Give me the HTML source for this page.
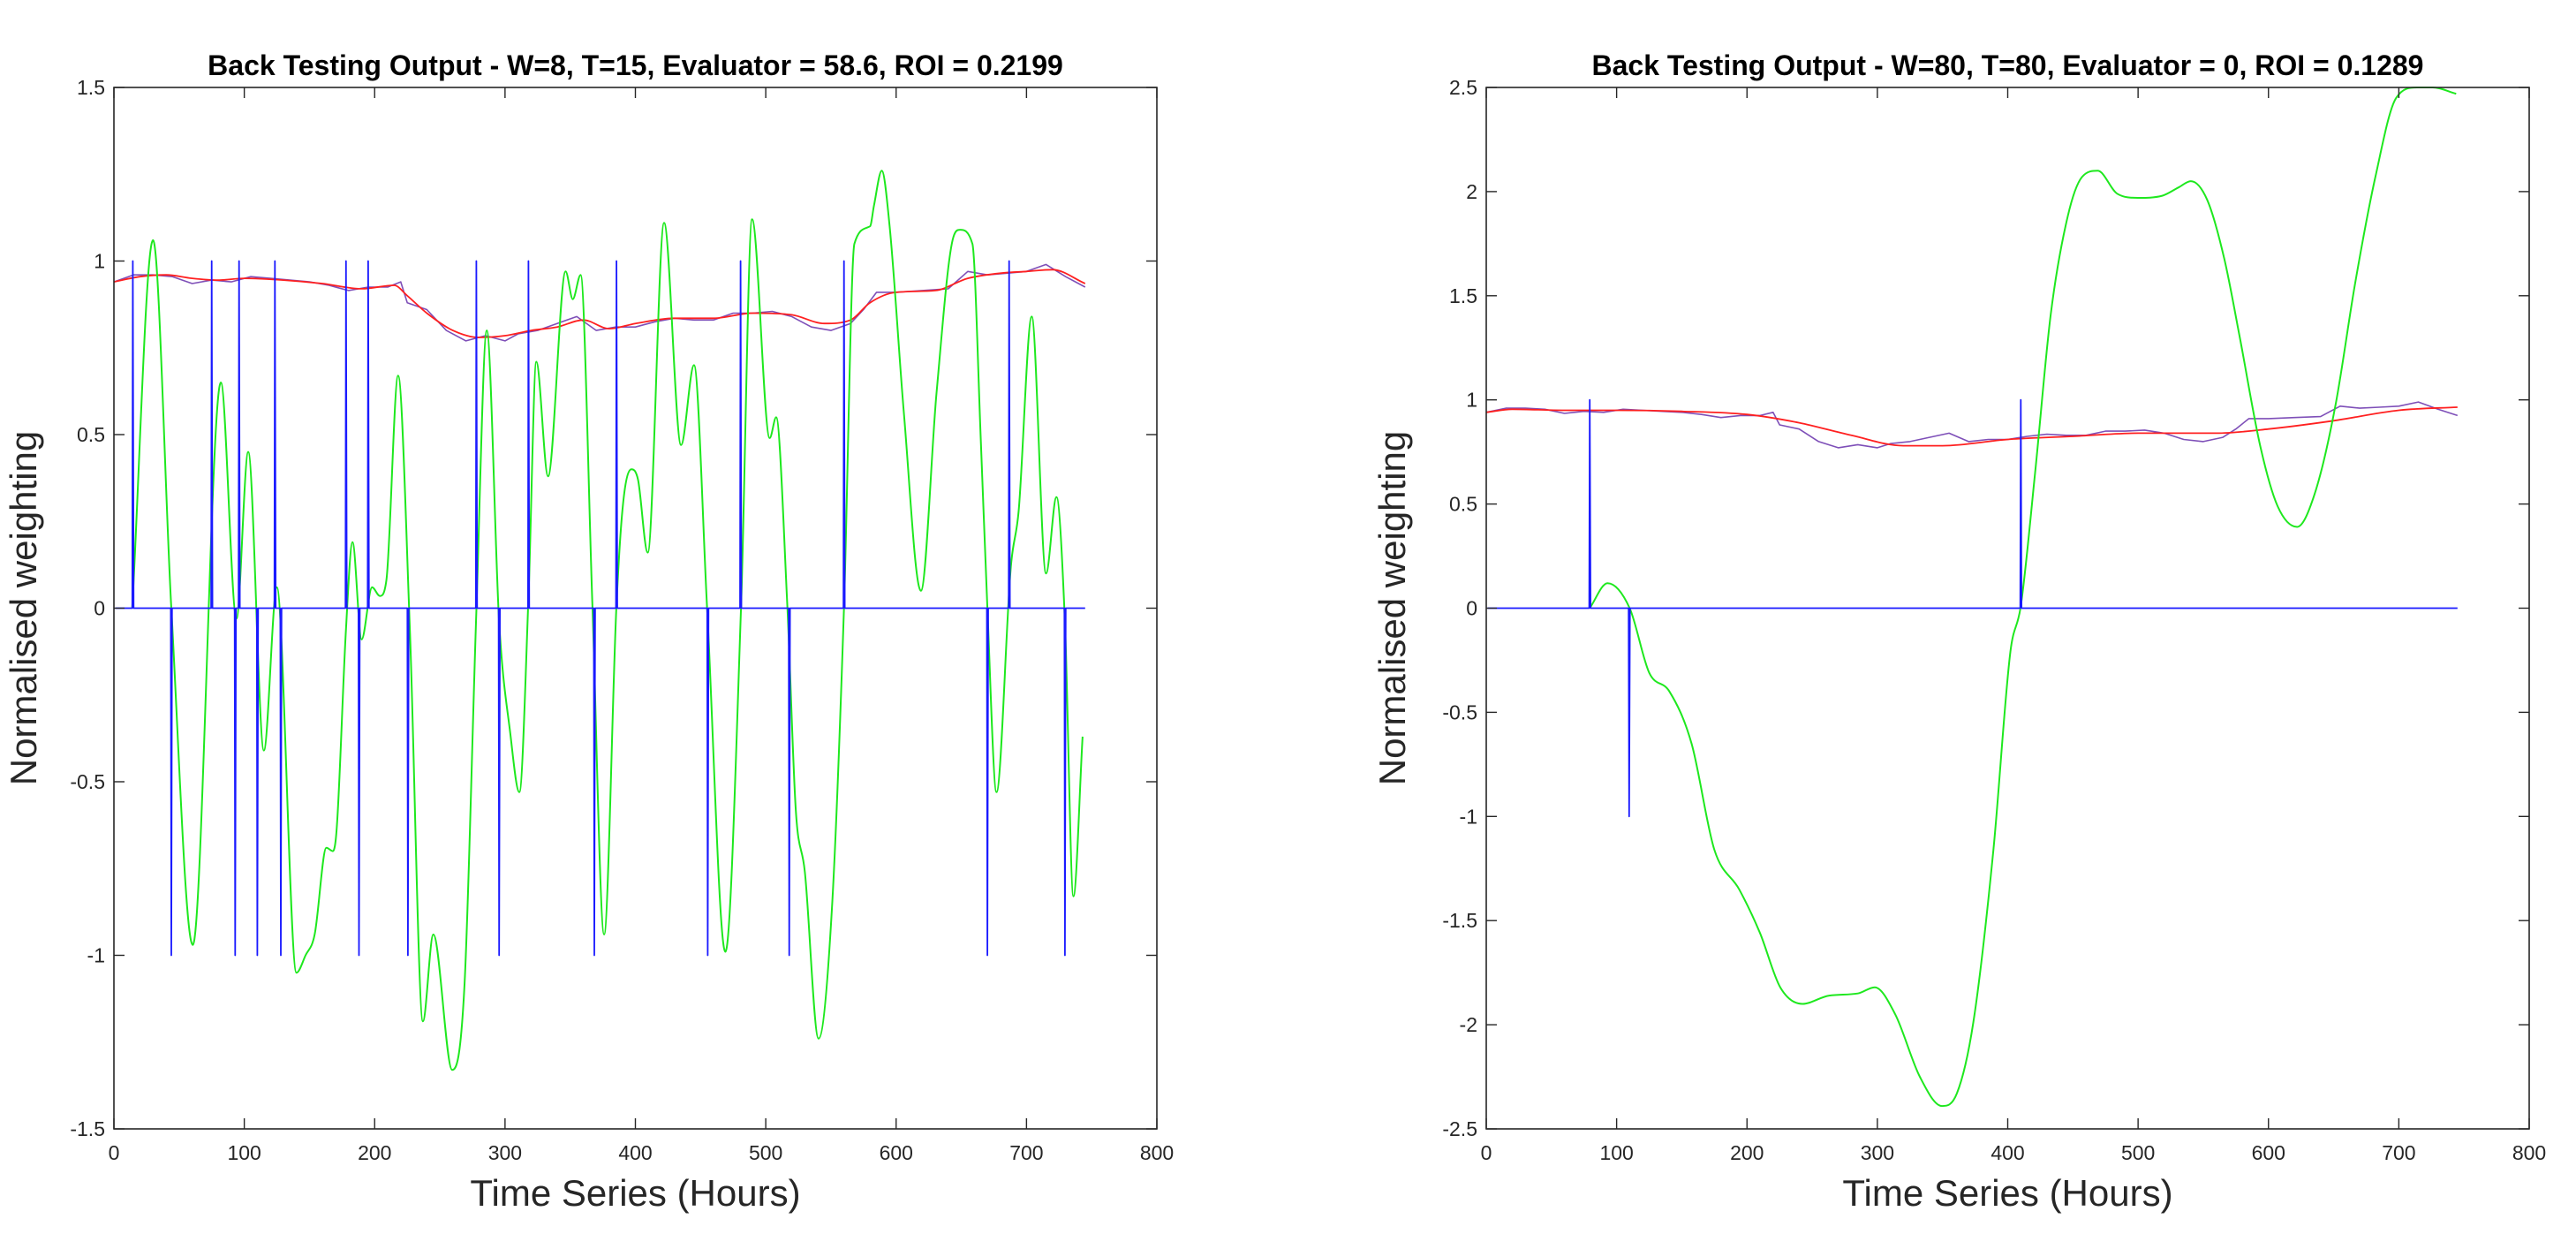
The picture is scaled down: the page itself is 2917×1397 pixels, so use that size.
<!DOCTYPE html>
<html><head><meta charset="utf-8"><style>
html,body{margin:0;padding:0;background:#fff;}
svg{display:block;font-family:"Liberation Sans",Arial,sans-serif;}
</style></head><body>
<svg id="fig" width="2917" height="1397" viewBox="0 0 2917 1397" xmlns="http://www.w3.org/2000/svg"></svg>
<script>
// ---- data ----
const priceX = [0,15,30,45,60,75,90,105,120,135,150,165,180,195,210,220,225,240,255,270,285,300,310,325,340,355,370,385,400,415,430,445,460,475,490,505,520,535,550,565,575,585,600,620,640,655,670,685,700,715,730,745];
const priceY = [.94,.96,.96,.955,.935,.945,.94,.955,.95,.945,.94,.93,.915,.925,.925,.94,.88,.86,.80,.77,.785,.77,.79,.80,.82,.84,.80,.81,.81,.825,.835,.83,.83,.85,.85,.855,.84,.81,.80,.82,.86,.91,.91,.915,.92,.97,.96,.965,.97,.99,.955,.925];
const maLeftX = [0,20,40,60,80,100,130,160,190,215,225,240,260,280,300,320,340,360,380,400,430,460,490,520,545,565,580,600,630,655,680,700,720,745];
const maLeftY = [.94,.955,.96,.95,.945,.95,.945,.935,.92,.93,.90,.85,.80,.78,.785,.80,.81,.83,.805,.82,.835,.835,.85,.845,.82,.83,.88,.91,.915,.95,.965,.97,.975,.935];
const maRightX = [0,20,60,100,150,200,240,280,320,350,400,450,500,560,600,650,700,745];
const maRightY = [.94,.955,.95,.95,.945,.93,.89,.83,.78,.78,.81,.825,.84,.84,.86,.90,.95,.965];
const greenLeftX = [14,30,44,60.5,82,94,103,115,125,140,147,154,163,168,171,178,183,190,198,204,209,218,227,237,245,259.5,269,278,286,295.5,304,311,318,324,333,346.5,352,358,367,376,385.5,390.5,397,402,409.5,422,435,445,455,469,481,489.5,503,508,516.5,523,530,540.5,551,560,568,580,583,589,595,606,619,631,644,649,658.5,665,670,677,688,694,704,715,723,729.5,736,743];
const greenLeftY = [0,1.06,0,-0.97,0.65,-0.03,0.45,-0.41,0.06,-1.05,-1.0,-0.94,-0.69,-0.7,-0.63,-0.06,0.19,-0.09,0.06,0.035,0.08,0.67,-0.06,-1.19,-0.94,-1.33,-1.08,-0.01,0.8,-0.04,-0.36,-0.53,0.03,0.71,0.38,0.97,0.89,0.96,0.01,-0.94,0.01,0.3,0.4,0.37,0.16,1.11,0.47,0.7,0,-0.99,0,1.12,0.49,0.55,0.01,-0.58,-0.76,-1.24,-0.85,0,1.05,1.1,1.16,1.26,1.1,0.56,0.05,0.62,1.07,1.09,1.05,0.48,0,-0.53,0.12,0.28,0.84,0.1,0.32,-0.04,-0.83,-0.37];
const greenRightX = [79.4,93,110,125,140.5,157.5,175,194,210,225.5,242.5,263,285,298,313.7,332.6,349.6,361,373.6,389,402,410,421,433,446,457,469,484,500,518.5,531,540.5,553,566,578,594,607,622,635,651,666.5,682,698,714,726,744];
const greenRightY = [0,0.12,0,-0.31,-0.4,-0.65,-1.16,-1.35,-1.56,-1.82,-1.9,-1.86,-1.85,-1.82,-1.95,-2.25,-2.39,-2.33,-1.99,-1.16,-0.21,0.01,0.65,1.41,1.88,2.07,2.1,1.99,1.97,1.98,2.02,2.05,1.96,1.68,1.3,0.77,0.49,0.39,0.54,0.96,1.56,2.07,2.45,2.5,2.5,2.47];
const spikesLeftX = [14.5,44,75,93,96,110,123.5,128,178,188,195,225.5,278,295.5,318,368.5,385.5,455.5,480.7,518,560,670,686.7,729.5];
const spikesLeftV = [1,-1,1,-1,1,-1,1,-1,1,-1,1,-1,1,-1,1,-1,1,-1,1,-1,1,-1,1,-1];
const spikesRightX = [79.4,109.6,410];
const spikesRightV = [1,-1,1];
const xTicks = [0,100,200,300,400,500,600,700,800];
const yTicksLeft = [-1.5,-1,-0.5,0,0.5,1,1.5];
const yTicksRight = [-2.5,-2,-1.5,-1,-0.5,0,0.5,1,1.5,2,2.5];
const titles = ["Back Testing Output - W=8, T=15, Evaluator = 58.6, ROI = 0.2199","Back Testing Output - W=80, T=80, Evaluator = 0, ROI = 0.1289"];

const NS="http://www.w3.org/2000/svg";
const svg=document.getElementById('fig');
function mk(tag,attrs,parent){const e=document.createElementNS(NS,tag);for(const k in attrs)e.setAttribute(k,attrs[k]);(parent||svg).appendChild(e);return e;}

// monotone cubic path through pixel points
function smoothPath(px,py){
  const n=px.length;if(n<3){let d='';for(let i=0;i<n;i++)d+=(i?'L':'M')+px[i]+' '+py[i];return d;}
  const dx=[],m=[],t=new Array(n);
  for(let i=0;i<n-1;i++){dx[i]=px[i+1]-px[i];m[i]=(py[i+1]-py[i])/dx[i];}
  t[0]=m[0];t[n-1]=m[n-2];
  for(let i=1;i<n-1;i++){t[i]=(m[i-1]*m[i]<=0)?0:(m[i-1]+m[i])/2;}
  for(let i=0;i<n-1;i++){if(m[i]===0){t[i]=0;t[i+1]=0;continue;}
    const a=t[i]/m[i],b=t[i+1]/m[i],s=a*a+b*b;if(s>9){const k=3/Math.sqrt(s);t[i]=k*a*m[i];t[i+1]=k*b*m[i];}}
  let d='M'+px[0].toFixed(1)+' '+py[0].toFixed(1);
  for(let i=0;i<n-1;i++){const h=dx[i]/3;
    d+='C'+(px[i]+h).toFixed(1)+' '+(py[i]+t[i]*h).toFixed(1)+' '+(px[i+1]-h).toFixed(1)+' '+(py[i+1]-t[i+1]*h).toFixed(1)+' '+px[i+1].toFixed(1)+' '+py[i+1].toFixed(1);}
  return d;
}

function drawPanel(idx,x0,yMin,yMax,yTicks,series){
  const L=x0,R=x0+1181,T=99,B=1278;
  const g=mk('g',{});
  
  
  const sx=v=>L+(v/800)*(R-L);
  const sy=v=>B-(v-yMin)/(yMax-yMin)*(B-T);
  const line=(xs,ys,color,w,name,smooth)=>{
    const px=xs.map(sx),py=ys.map(sy);
    let d='';
    if(smooth)d=smoothPath(px,py);
    else for(let i=0;i<xs.length;i++)d+=(i?'L':'M')+px[i].toFixed(1)+' '+py[i].toFixed(1);
    const p=mk('path',{d:d,fill:'none',stroke:color,'stroke-width':w,'stroke-linejoin':'round'},g);
    
    
  };
  line(priceX,priceY,'#7e4fb8',1.6,'price-line',false);
  line(series.maX,series.maY,'#ff2020',1.8,'moving-average-line',true);
  line(series.gX,series.gY,'#1ee81e',2,'signal-line',true);
  const bx=[1],by=[0];
  for(let i=0;i<series.sX.length;i++){const s=series.sX[i];bx.push(s-0.4,s,s+0.6);by.push(0,series.sV[i],0);}
  bx.push(745);by.push(0);
  line(bx,by,'#1a1aff',1.8,'position-line',false);
  const box=mk('rect',{x:L,y:T,width:R-L,height:B-T,fill:'none',stroke:'#262626','stroke-width':1.6},g);
  
  
  xTicks.forEach(v=>{
    const x=sx(v);
    mk('line',{x1:x,y1:B,x2:x,y2:B-12,stroke:'#262626','stroke-width':1.4},g);
    mk('line',{x1:x,y1:T,x2:x,y2:T+12,stroke:'#262626','stroke-width':1.4},g);
    const t=mk('text',{x:x,y:B+35,'font-size':23,fill:'#262626','text-anchor':'middle'},g);
    t.textContent=v;
    
    
  });
  yTicks.forEach(v=>{
    const y=sy(v);
    mk('line',{x1:L,y1:y,x2:L+12,y2:y,stroke:'#262626','stroke-width':1.4},g);
    mk('line',{x1:R,y1:y,x2:R-12,y2:y,stroke:'#262626','stroke-width':1.4},g);
    const t=mk('text',{x:L-10,y:y+8,'font-size':23,fill:'#262626','text-anchor':'end'},g);
    t.textContent=v;
    
    
  });
  const ti=mk('text',{x:(L+R)/2,y:85,'font-size':32,'font-weight':'bold',fill:'#000','text-anchor':'middle'},g);
  ti.textContent=titles[idx];
  
  
  const xl=mk('text',{x:(L+R)/2,y:1365,'font-size':42,fill:'#262626','text-anchor':'middle'},g);
  xl.textContent='Time Series (Hours)';
  
  
  const yx=L-(idx===0?88:92);
  const yl=mk('text',{x:yx,y:(T+B)/2,'font-size':42,fill:'#262626','text-anchor':'middle',transform:'rotate(-90 '+yx+' '+(T+B)/2+')'},g);
  yl.textContent='Normalised weighting';
  
  
}
drawPanel(0,129,-1.5,1.5,yTicksLeft,{maX:maLeftX,maY:maLeftY,gX:greenLeftX,gY:greenLeftY,sX:spikesLeftX,sV:spikesLeftV});
drawPanel(1,1683,-2.5,2.5,yTicksRight,{maX:maRightX,maY:maRightY,gX:greenRightX,gY:greenRightY,sX:spikesRightX,sV:spikesRightV});
</script>
</body></html>
